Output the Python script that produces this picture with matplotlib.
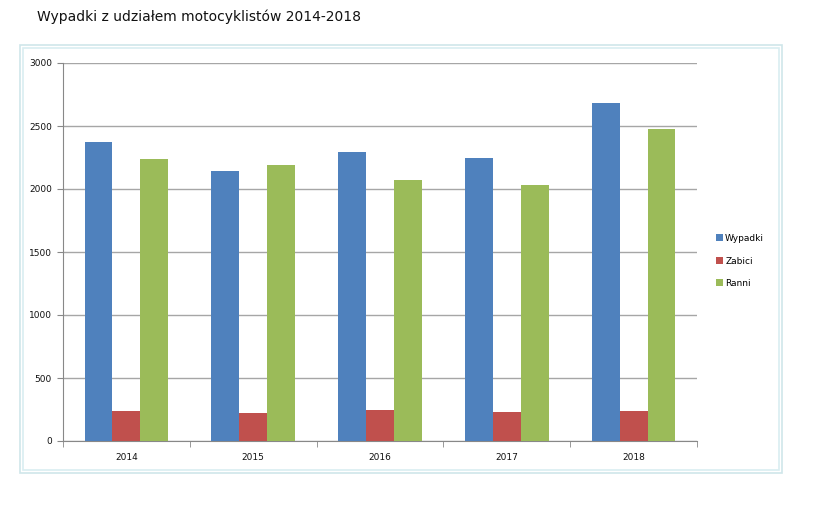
import matplotlib
matplotlib.use("Agg")
import matplotlib.pyplot as plt
import numpy as np
from matplotlib.patches import Rectangle

years = ["2014", "2015", "2016", "2017", "2018"]
wypadki = [2375, 2143, 2294, 2246, 2680]
zabici = [238, 222, 246, 230, 238]
ranni = [2236, 2190, 2071, 2032, 2476]
series_names = ["Wypadki", "Zabici", "Ranni"]
colors = ["#4F81BD", "#C0504D", "#9BBB59"]
yticks = [0, 500, 1000, 1500, 2000, 2500, 3000]

fig = plt.figure(figsize=(8.15, 5.18), dpi=100)
W, H = 815, 518

# outer chart frame
for inset, col in [(0, "#cfe6ea"), (3, "#d9eef1")]:
    fig.add_artist(Rectangle(((20 + inset) / W, 1 - (473 - inset) / H),
                             (762 - 2 * inset) / W, (428 - 2 * inset) / H,
                             transform=fig.transFigure, fill=False,
                             edgecolor=col, linewidth=1.2, zorder=-1))

fig.text(37 / W, 1 - 17 / H, "Wypadki z udziałem motocyklistów 2014-2018",
         fontsize=10, va="center", ha="left", color="#111111")

ax = fig.add_axes([63 / W, 1 - 441 / H, 634 / W, 378 / H])
x = np.arange(len(years))
bw = 0.22
data = [wypadki, zabici, ranni]
for i, (vals, name, c) in enumerate(zip(data, series_names, colors)):
    ax.bar(x + (i - 1) * bw, vals, width=bw, color=c, label=name, zorder=3)

ax.set_xlim(-0.5, len(years) - 0.5)
ax.set_ylim(0, 3000)
ax.set_yticks(yticks)
ax.set_yticklabels([str(t) for t in yticks], fontsize=6.5, color="#111111")
ax.yaxis.grid(True, color="#a6a6a6", linewidth=1.0, zorder=0)
ax.set_xticks(x)
ax.set_xticklabels(years, fontsize=6.5, color="#111111")
ax.tick_params(axis="x", length=0, pad=9)
ax.set_xticks(np.arange(-0.5, len(years)), minor=True)
ax.tick_params(axis="x", which="minor", length=4, color="#888888")
ax.tick_params(axis="y", length=4, color="#888888", pad=4)
for s in ["top", "right"]:
    ax.spines[s].set_visible(False)
ax.spines["left"].set_color("#888888")
ax.spines["bottom"].set_color("#888888")

leg = fig.legend(loc="center left", bbox_to_anchor=(708 / W, 1 - 261 / H),
                 frameon=False, fontsize=6.5, handlelength=0.8, handleheight=0.8,
                 handletextpad=0.2, labelspacing=1.5)

fig.savefig("out.png", dpi=100)
